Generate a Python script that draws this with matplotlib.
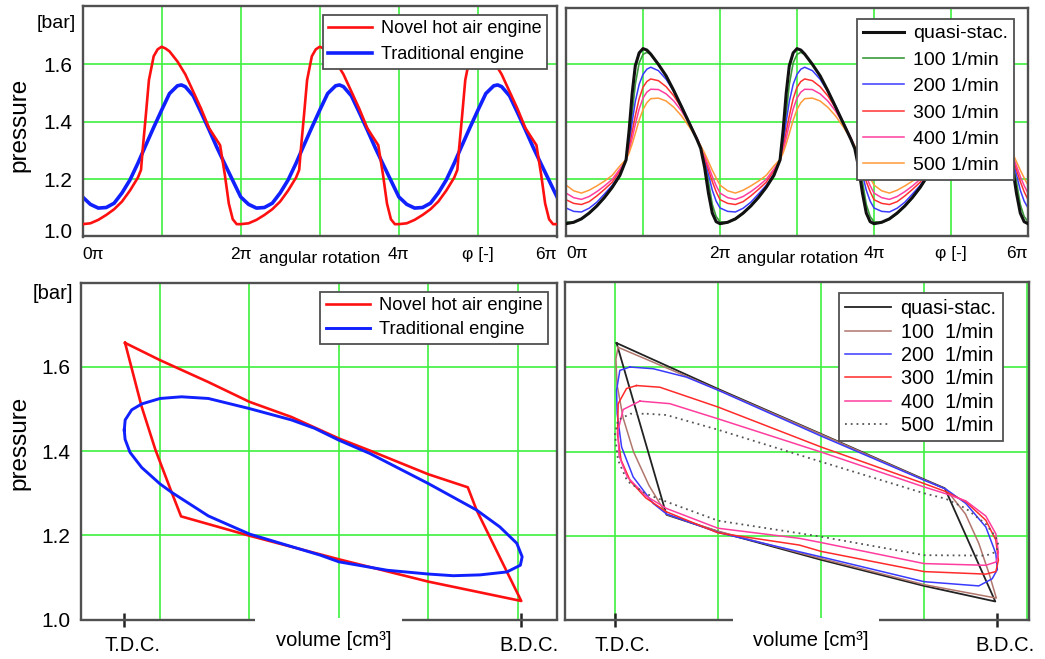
import numpy as np
import matplotlib
matplotlib.use("Agg")
import matplotlib.pyplot as plt
from matplotlib.patches import Rectangle
from matplotlib.transforms import ScaledTranslation

plt.rcParams['font.family'] = ['Liberation Sans', 'DejaVu Sans']

# ------------------------------------------------------------------ data
# Top-left: pressure [bar] over one crank cycle, angle in units of pi
phi_novel = [0.00, 0.10, 0.20, 0.30, 0.40, 0.50, 0.60, 0.70, 0.74, 0.76, 0.80, 0.84, 0.90, 0.95,
             1.00, 1.05, 1.10, 1.20, 1.30, 1.40, 1.50, 1.60, 1.66, 1.74, 1.80, 1.85, 1.90, 1.95, 2.00]
p_novel = [1.043, 1.046, 1.058, 1.075, 1.095, 1.122, 1.160, 1.205, 1.232, 1.300, 1.420, 1.545, 1.628, 1.652,
           1.661, 1.655, 1.645, 1.610, 1.565, 1.505, 1.445, 1.378, 1.352, 1.318, 1.215, 1.115, 1.060, 1.043, 1.043]
phi_trad = [0.0, 0.1, 0.2, 0.3, 0.4, 0.5, 0.6, 0.7, 0.8, 0.9, 1.0, 1.1, 1.2, 1.25, 1.3, 1.4, 1.5, 1.6,
            1.7, 1.8, 1.9, 2.0]
p_trad = [1.138, 1.112, 1.099, 1.101, 1.116, 1.152, 1.197, 1.255, 1.318, 1.380, 1.440, 1.498, 1.525, 1.528,
          1.522, 1.490, 1.432, 1.372, 1.310, 1.252, 1.195, 1.138]
n_cycles = 3

# Top-right: pressure over one cycle for several speeds
phi_speed = [0.0, 0.1, 0.2, 0.3, 0.4, 0.5, 0.6, 0.7, 0.78, 0.82, 0.86, 0.9, 0.95, 1.0, 1.05, 1.1, 1.2,
             1.3, 1.4, 1.5, 1.6, 1.7, 1.75, 1.8, 1.85, 1.9, 1.95, 2.0]
p_quasi = [1.043, 1.048, 1.060, 1.080, 1.105, 1.135, 1.170, 1.212, 1.266, 1.370, 1.500, 1.595, 1.640, 1.655,
           1.650, 1.636, 1.600, 1.560, 1.508, 1.452, 1.395, 1.338, 1.306, 1.240, 1.150, 1.080, 1.050, 1.043]
p_100 = [1.050, 1.047, 1.058, 1.078, 1.103, 1.133, 1.168, 1.212, 1.266, 1.320, 1.430, 1.530, 1.605, 1.635,
         1.642, 1.635, 1.600, 1.560, 1.508, 1.452, 1.395, 1.338, 1.306, 1.265, 1.190, 1.110, 1.068, 1.050]
p_200 = [1.098, 1.086, 1.084, 1.097, 1.118, 1.147, 1.177, 1.217, 1.266, 1.320, 1.400, 1.470, 1.530, 1.565,
         1.583, 1.590, 1.578, 1.548, 1.505, 1.455, 1.398, 1.340, 1.308, 1.268, 1.215, 1.160, 1.122, 1.098]
p_300 = [1.127, 1.114, 1.110, 1.120, 1.140, 1.163, 1.188, 1.228, 1.266, 1.305, 1.365, 1.420, 1.480, 1.520,
         1.540, 1.549, 1.543, 1.522, 1.490, 1.448, 1.398, 1.342, 1.310, 1.275, 1.232, 1.190, 1.155, 1.127]
p_400 = [1.150, 1.134, 1.128, 1.138, 1.155, 1.175, 1.198, 1.234, 1.266, 1.298, 1.342, 1.390, 1.444, 1.482,
         1.503, 1.513, 1.512, 1.497, 1.472, 1.437, 1.393, 1.343, 1.313, 1.282, 1.245, 1.208, 1.176, 1.150]
p_500 = [1.178, 1.158, 1.150, 1.160, 1.175, 1.192, 1.212, 1.245, 1.268, 1.290, 1.322, 1.358, 1.405, 1.442,
         1.466, 1.480, 1.482, 1.472, 1.450, 1.420, 1.382, 1.340, 1.315, 1.290, 1.260, 1.230, 1.203, 1.178]
speed_labels_top = ['quasi-stac.', '100 1/min', '200 1/min', '300 1/min', '400 1/min', '500 1/min']

# Bottom-left: p-V loops (volume in grid units; T.D.C./B.D.C. positions)
v_novel = [0.609, 1.0, 1.54, 2.0, 2.47, 3.0, 3.35, 4.0, 4.442, 4.54, 5.04, 4.0, 3.0, 2.0, 1.235,
           1.13, 0.95, 0.795, 0.609]
pv_novel = [1.657, 1.616, 1.564, 1.517, 1.481, 1.430, 1.401, 1.345, 1.314, 1.260, 1.044, 1.090, 1.143,
            1.199, 1.245, 1.302, 1.402, 1.505, 1.657]
v_trad = [0.600, 0.610, 0.683, 0.795, 1.000, 1.240, 1.540, 2.000, 2.470, 2.730, 3.000, 3.350, 4.000,
          4.540, 4.800, 4.990, 5.050, 5.030, 4.880, 4.580, 4.280, 4.000, 3.540, 3.000, 2.790, 2.000,
          1.540, 1.130, 1.000, 0.795, 0.664, 0.609, 0.600]
pv_trad = [1.450, 1.474, 1.498, 1.512, 1.525, 1.529, 1.525, 1.501, 1.474, 1.454, 1.426, 1.394, 1.323,
           1.260, 1.220, 1.181, 1.149, 1.129, 1.113, 1.106, 1.104, 1.108, 1.117, 1.137, 1.153, 1.203,
           1.246, 1.302, 1.322, 1.361, 1.397, 1.428, 1.450]
tdc_left, bdc_left = 0.597, 5.037

# Bottom-right: p-V loops for several speeds
v_quasi = [1.016, 2.0, 3.0, 4.0, 4.20, 4.69, 4.0, 3.0, 2.0, 1.50, 1.016]
pv_quasi = [1.658, 1.549, 1.442, 1.334, 1.313, 1.044, 1.081, 1.143, 1.210, 1.250, 1.658]
v_100 = [1.03, 2.0, 3.0, 4.0, 4.21, 4.40, 4.53, 4.63, 4.70, 4.0, 3.0, 2.0, 1.50, 1.33, 1.18, 1.08,
         1.02, 1.01, 1.03]
pv_100 = [1.648, 1.547, 1.441, 1.333, 1.311, 1.252, 1.182, 1.110, 1.052, 1.084, 1.146, 1.211, 1.251,
          1.320, 1.400, 1.480, 1.560, 1.620, 1.648]
v_200 = [1.145, 1.371, 1.694, 2.0, 3.0, 4.0, 4.21, 4.404, 4.598, 4.695, 4.71, 4.66, 4.53, 4.0, 3.0,
         2.79, 2.0, 1.5, 1.371, 1.177, 1.065, 1.022, 1.016, 1.048, 1.145]
pv_200 = [1.601, 1.597, 1.577, 1.546, 1.437, 1.332, 1.311, 1.277, 1.221, 1.158, 1.120, 1.098, 1.081,
          1.091, 1.150, 1.162, 1.208, 1.252, 1.277, 1.340, 1.411, 1.490, 1.546, 1.593, 1.601]
v_300 = [1.21, 1.436, 2.0, 3.0, 4.0, 4.21, 4.404, 4.598, 4.695, 4.72, 4.695, 4.598, 4.0, 3.0, 2.79,
         2.0, 1.5, 1.30, 1.15, 1.06, 1.025, 1.032, 1.113, 1.21]
pv_300 = [1.557, 1.553, 1.506, 1.411, 1.324, 1.305, 1.281, 1.237, 1.190, 1.142, 1.115, 1.109, 1.115,
          1.163, 1.178, 1.207, 1.257, 1.290, 1.330, 1.380, 1.440, 1.514, 1.550, 1.557]
v_400 = [1.242, 1.532, 2.0, 3.0, 4.0, 4.21, 4.404, 4.598, 4.695, 4.72, 4.70, 4.598, 4.0, 3.0, 2.79,
         2.0, 1.5, 1.30, 1.12, 1.04, 1.03, 1.08, 1.242]
pv_400 = [1.520, 1.514, 1.478, 1.399, 1.316, 1.300, 1.283, 1.247, 1.205, 1.160, 1.138, 1.130, 1.134,
          1.184, 1.194, 1.218, 1.265, 1.295, 1.340, 1.390, 1.450, 1.500, 1.520]
v_500 = [1.31, 1.5, 2.0, 3.0, 4.0, 4.21, 4.404, 4.598, 4.695, 4.72, 4.70, 4.598, 4.0, 3.0, 2.79,
         2.0, 1.5, 1.30, 1.12, 1.03, 1.00, 1.03, 1.15, 1.31]
pv_500 = [1.490, 1.487, 1.452, 1.376, 1.301, 1.288, 1.265, 1.228, 1.197, 1.178, 1.162, 1.153, 1.154,
          1.198, 1.206, 1.236, 1.281, 1.300, 1.330, 1.380, 1.440, 1.475, 1.490, 1.490]
speed_labels_bottom = ['quasi-stac.', '100  1/min', '200  1/min', '300  1/min', '400  1/min', '500  1/min']
tdc_right, bdc_right = 1.0, 4.71

# ------------------------------------------------------------------ helpers
W, H = 1045, 659
fig = plt.figure(figsize=(W / 100, H / 100), dpi=100)

GRID = '#3ef03e'
SPINE = '#505050'


def rect(left, top, right, bottom):
    return [left / W, 1 - bottom / H, (right - left) / W, (bottom - top) / H]


def cycles(phi, p):
    xs, ys = [], []
    for k in range(n_cycles):
        xs.extend([v + 2 * k for v in phi[:-1]])
        ys.extend(p[:-1])
    xs.append(phi[-1] + 2 * (n_cycles - 1))
    ys.append(p[-1])
    return xs, ys


def style(ax, xgrid, ygrid):
    ax.set_facecolor('white')
    for s in ax.spines.values():
        s.set_color(SPINE)
        s.set_linewidth(1.7)
    for g in xgrid:
        ax.axvline(g, color=GRID, lw=1.2, zorder=0.5)
    for g in ygrid:
        ax.axhline(g, color=GRID, lw=1.2, zorder=0.5)


def legend(ax, anchor, fontsize, spacing, hl, bpad=0.3):
    lg = ax.legend(loc='upper left', bbox_to_anchor=anchor, bbox_transform=fig.transFigure,
                   borderaxespad=0, fontsize=fontsize, labelspacing=spacing, handlelength=hl,
                   handletextpad=0.5, borderpad=bpad, fancybox=False, framealpha=1)
    lg.get_frame().set_edgecolor(SPINE)
    lg.get_frame().set_linewidth(1.3)
    return lg


def fig_px(x, y):
    return x / W, 1 - y / H


# ------------------------------------------------------------------ top-left
ax1 = fig.add_axes(rect(82.5, 6, 557, 236.5))
style(ax1, [1, 2, 3, 4, 5], [1.2, 1.4, 1.6])
x, y = cycles(phi_novel, p_novel)
ax1.plot(x, y, color='#ff1010', lw=1.9, label='Novel hot air engine', zorder=3)
x, y = cycles(phi_trad, p_trad)
ax1.plot(x, y, color='#1020ff', lw=2.6, label='Traditional engine', zorder=2)
ax1.set_xlim(0, 6)
ax1.set_ylim(1.0, 1.803)

# ------------------------------------------------------------------ top-right
ax2 = fig.add_axes(rect(566, 8, 1028, 236))
style(ax2, [1, 2, 3, 4, 5], [1.2, 1.4, 1.6])
top_series = [p_quasi, p_100, p_200, p_300, p_400, p_500]
top_colors = ['#111111', '#3c9a3c', '#3a3aff', '#ff3030', '#ff3d9e', '#ff9a3a']
top_widths = [2.2, 1.2, 1.1, 1.1, 1.1, 1.1]
for ser, c, w, lab in zip(top_series, top_colors, top_widths, speed_labels_top):
    x, y = cycles(phi_speed, ser)
    ax2.plot(x, y, color=c, lw=w, label=lab, zorder=2 if c != '#111111' else 3)
ax2.set_xlim(0, 6)
ax2.set_ylim(1.0, 1.797)

# ------------------------------------------------------------------ bottom-left
ax3 = fig.add_axes(rect(81, 282.7, 557.3, 619.5))
style(ax3, [1, 2, 3, 4, 5], [1.2, 1.4, 1.6])
ax3.plot(v_novel, pv_novel, color='#ff1010', lw=1.9, label='Novel hot air engine', zorder=3)
ax3.plot(v_trad, pv_trad, color='#1020ff', lw=2.1, label='Traditional engine', zorder=3)
ax3.set_xlim(0.116, 5.443)
ax3.set_ylim(1.0, 1.80)

# ------------------------------------------------------------------ bottom-right
ax4 = fig.add_axes(rect(565, 282, 1028.5, 620))
style(ax4, [1, 2, 3, 4, 5], [1.2, 1.4, 1.6])
bot_v = [v_quasi, v_100, v_200, v_300, v_400, v_500]
bot_p = [pv_quasi, pv_100, pv_200, pv_300, pv_400, pv_500]
bot_colors = ['#222222', '#b0766c', '#3a3aff', '#ff2a2a', '#ff3d9e', '#555555']
bot_styles = ['-', '-', '-', '-', '-', (0, (1, 2.2))]
bot_widths = [1.3, 1.1, 1.1, 1.1, 1.1, 1.3]
for vv, pp, c, ls, w, lab in zip(bot_v, bot_p, bot_colors, bot_styles, bot_widths, speed_labels_bottom):
    ax4.plot(vv, pp, color=c, ls=ls, lw=w, label=lab, zorder=3)
ax4.set_xlim(0.516, 5.012)
ax4.set_ylim(1.0, 1.803)

# ------------------------------------------------------------------ ticks
for ax in (ax1, ax2):
    ax.set_xticks([0, 2, 4, 5, 6])
    ax.set_xticklabels(['0π', '2π', '4π', 'φ [-]', '6π'])
    ax.tick_params(axis='x', length=0, pad=7.5, labelsize=12.5)
    labs = ax.get_xticklabels()
    labs[0].set_ha('left')
    labs[-1].set_ha('right')

for ax in (ax1, ax3):
    ax.set_yticks([1.0, 1.2, 1.4, 1.6])
    ax.set_yticklabels(['1.0', '1.2', '1.4', '1.6'])
    ax.tick_params(axis='y', length=0, pad=7.5, labelsize=15)
ax1.get_yticklabels()[0].set_transform(ax1.get_yticklabels()[0].get_transform()
                                       + ScaledTranslation(0, 6 / 100, fig.dpi_scale_trans))
for ax in (ax2, ax4):
    ax.set_yticks([])

ax3.set_xticks([tdc_left, bdc_left])
ax4.set_xticks([tdc_right, bdc_right])
for ax in (ax3, ax4):
    ax.set_xticklabels(['T.D.C.', 'B.D.C.'])
    ax.tick_params(axis='x', direction='inout', length=10.5, width=1.8, color='#222222',
                   pad=6.5, labelsize=14.5)
    for lab in ax.get_xticklabels():
        lab.set_transform(lab.get_transform() + ScaledTranslation(8 / 100, 0, fig.dpi_scale_trans))

# ------------------------------------------------------------------ legends
legend(ax1, fig_px(323, 15), 13, 0.5, 2.4)
legend(ax2, fig_px(857, 19), 14, 0.45, 2.1)
legend(ax3, fig_px(320, 292), 13.2, 0.38, 2.4)
legend(ax4, fig_px(839, 293), 14.2, 0.22, 2.3, bpad=0.32)

# ------------------------------------------------------------------ texts
fig.text(*fig_px(76, 23.5), '[bar]', ha='right', va='center', fontsize=14)
fig.text(*fig_px(73, 293.5), '[bar]', ha='right', va='center', fontsize=14.5)
fig.text(*fig_px(19, 125), 'pressure', rotation=90, ha='center', va='center', fontsize=17.5)
fig.text(*fig_px(19.5, 442.5), 'pressure', rotation=90, ha='center', va='center', fontsize=17.5)
fig.text(*fig_px(319.5, 259), 'angular rotation', ha='center', va='center', fontsize=12.5)
fig.text(*fig_px(798, 259), 'angular rotation', ha='center', va='center', fontsize=12.5)

for x0, x1 in ((255, 402), (733, 879)):
    fig.add_artist(Rectangle((x0 / W, 0), (x1 - x0) / W, 41.5 / H, transform=fig.transFigure,
                             facecolor='white', edgecolor='none', zorder=2))
fig.text(*fig_px(334, 640.5), 'volume [cm³]', ha='center', va='center', fontsize=14.5, zorder=3)
fig.text(*fig_px(811, 640), 'volume [cm³]', ha='center', va='center', fontsize=14.5, zorder=3)

fig.savefig('out.png', dpi=100, facecolor='white')
